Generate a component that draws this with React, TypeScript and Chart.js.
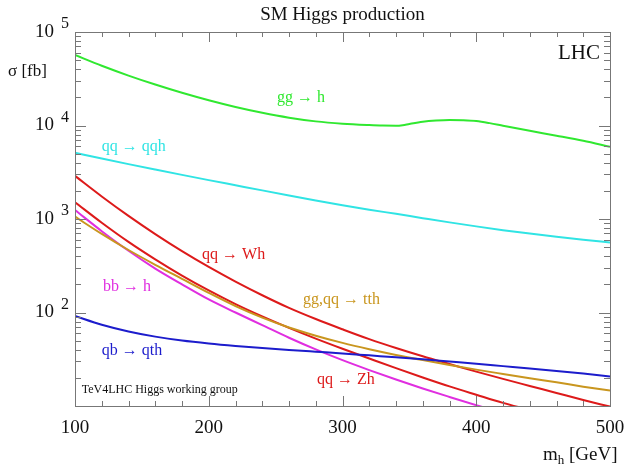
import { useEffect, useRef } from 'react';
import { Chart, registerables } from 'chart.js';

Chart.register(...registerables);

// ---- data ----
const massGrid = [100, 120, 140, 160, 180, 200, 220, 240, 260, 280, 300, 320, 340, 360, 380, 400, 420, 440, 460, 480, 500];
const ggMass = [100, 120, 140, 160, 180, 200, 220, 240, 260, 280, 300, 320, 330, 340, 345, 350, 360, 370, 380, 390, 400, 410, 420, 440, 460, 480, 500];
const ggH = [56750, 43550, 34200, 27420, 22390, 18620, 15780, 13680, 12130, 11070, 10450, 10100, 9980, 9950, 10080, 10400, 10980, 11300, 11450, 11380, 11150, 10600, 9950, 8780, 7780, 6860, 5930];
const qqQqh = [5117, 4436, 3864, 3381, 2965, 2606, 2296, 2023, 1786, 1581, 1406, 1259, 1135, 1021, 920, 834, 760, 698, 646, 601, 562];
const qqWh = [2891, 1742, 1079, 689, 453, 307, 214, 153, 112, 85.1, 66.1, 51.9, 41.7, 34.0, 28.1, 23.3, 19.5, 16.4, 13.8, 11.6, 9.84];
const qqZh = [1510, 912, 569, 370, 248, 172, 123, 90.8, 68.4, 52.5, 40.9, 32.2, 25.4, 20.2, 16.2, 13.2, 10.8, 9.08, 7.69, 6.61, 5.73];
const bbH = [1247, 741, 457, 295, 200, 138, 100, 73.3, 53.7, 40.3, 30.9, 24.2, 19.2, 15.4, 12.5, 10.2, 8.41, 7.0, 5.89, 5.01, 4.27];
const ttH = [1059, 692, 466, 324, 229, 162, 117, 88.1, 69.2, 56.5, 47.3, 40.5, 35.2, 31.0, 27.5, 24.5, 22.0, 19.8, 17.9, 16.1, 14.6];
const qbQth = [91.8, 74.0, 62.7, 55.2, 50.1, 46.6, 43.9, 41.7, 39.8, 38.1, 36.5, 34.8, 33.2, 31.6, 29.9, 28.3, 26.7, 25.2, 23.7, 22.2, 20.7];

const xTickLabels = [100, 200, 300, 400, 500];
const yExponents = [2, 3, 4, 5];

const SERIF = "'Liberation Serif', 'Times New Roman', serif";

const COLORS = {
  gg: '#30e830',
  qqh: '#30e4e4',
  wh: '#dd1a1a',
  zh: '#dd1a1a',
  bb: '#e02ee0',
  tth: '#c9961f',
  qth: '#1c1ccc',
};

const toPts = (xs: number[], ys: number[]) => xs.map((x, i) => ({ x, y: ys[i] }));

// curve labels anchored in data coordinates
const curveLabels = [
  { text: 'gg \u2192 h', m: 251, v: 19700, color: COLORS.gg },
  { text: 'qq \u2192 qqh', m: 120, v: 5890, color: COLORS.qqh },
  { text: 'qq \u2192 Wh', m: 195, v: 412, color: COLORS.wh },
  { text: 'bb \u2192 h', m: 121, v: 188, color: COLORS.bb },
  { text: 'gg,qq \u2192 tth', m: 270.5, v: 136, color: COLORS.tth },
  { text: 'qb \u2192 qth', m: 120, v: 38.7, color: COLORS.qth },
  { text: 'qq \u2192 Zh', m: 281, v: 19, color: COLORS.zh },
];

const overlay = {
  id: 'overlay',
  afterDraw(chart: any) {
    const { ctx, chartArea, scales } = chart;
    const { left, right, top, bottom } = chartArea;
    const xs = scales.x;
    const ys = scales.y;
    ctx.save();

    // frame
    ctx.strokeStyle = '#777777';
    ctx.lineWidth = 1;
    ctx.strokeRect(Math.round(left) + 0.5, Math.round(top) + 0.5, Math.round(right - left), Math.round(bottom - top));

    // x ticks (top & bottom, inward)
    ctx.beginPath();
    for (let v = 100; v <= 500; v += 20) {
      const px = Math.round(xs.getPixelForValue(v)) + 0.5;
      const len = v % 100 === 0 ? 10 : 5;
      ctx.moveTo(px, bottom);
      ctx.lineTo(px, bottom - len);
      ctx.moveTo(px, top);
      ctx.lineTo(px, top + len);
    }
    // y ticks (left & right, inward)
    for (let d = 1; d <= 5; d++) {
      for (let k = 1; k <= 9; k++) {
        const v = k * Math.pow(10, d);
        if (v > 100000) continue;
        const py = Math.round(ys.getPixelForValue(v)) + 0.5;
        const len = k === 1 ? 11 : 6;
        ctx.moveTo(left, py);
        ctx.lineTo(left + len, py);
        ctx.moveTo(right, py);
        ctx.lineTo(right - len, py);
      }
    }
    ctx.stroke();

    ctx.fillStyle = '#111111';
    // x tick labels
    ctx.font = `19px ${SERIF}`;
    ctx.textAlign = 'center';
    ctx.textBaseline = 'middle';
    xTickLabels.forEach((v) => {
      ctx.fillText(String(v), xs.getPixelForValue(v), bottom + 22);
    });

    // y tick labels 10^n
    yExponents.forEach((e) => {
      const py = ys.getPixelForValue(Math.pow(10, e));
      ctx.font = `19px ${SERIF}`;
      ctx.textAlign = 'right';
      ctx.textBaseline = 'middle';
      ctx.fillText('10', left - 21, py);
      ctx.font = `16px ${SERIF}`;
      ctx.textAlign = 'left';
      ctx.fillText(String(e), left - 14, py - 8);
    });

    // title
    ctx.font = `19px ${SERIF}`;
    ctx.textAlign = 'center';
    ctx.textBaseline = 'middle';
    ctx.fillText('SM Higgs production', (left + right) / 2, 15);

    // y axis title
    ctx.font = `17px ${SERIF}`;
    ctx.textAlign = 'left';
    ctx.fillText('\u03c3 [fb]', 8, 72);

    // x axis title m_h [GeV]
    ctx.font = `19px ${SERIF}`;
    ctx.textAlign = 'left';
    const mx = 543;
    const my = 455;
    ctx.fillText('m', mx, my);
    const mw = ctx.measureText('m').width;
    ctx.font = `13px ${SERIF}`;
    ctx.fillText('h', mx + mw, my + 6);
    const hw = ctx.measureText('h').width;
    ctx.font = `19px ${SERIF}`;
    ctx.fillText(' [GeV]', mx + mw + hw, my);

    // LHC
    ctx.font = `21px ${SERIF}`;
    ctx.textAlign = 'right';
    ctx.fillText('LHC', xs.getPixelForValue(492.5), ys.getPixelForValue(59600));

    // working group note
    ctx.font = `12px ${SERIF}`;
    ctx.textAlign = 'left';
    ctx.fillText('TeV4LHC Higgs working group', xs.getPixelForValue(105), ys.getPixelForValue(14.8));

    // curve labels
    ctx.font = `16px ${SERIF}`;
    ctx.textAlign = 'left';
    curveLabels.forEach((l) => {
      ctx.fillStyle = l.color;
      ctx.fillText(l.text, xs.getPixelForValue(l.m), ys.getPixelForValue(l.v));
    });

    ctx.restore();
  },
};

export default function App() {
  const ref = useRef<HTMLCanvasElement>(null);
  useEffect(() => {
    if (!ref.current) return;
    const mk = (label: string, xs: number[], ys: number[], color: string) => ({
      label,
      data: toPts(xs, ys),
      borderColor: color,
      backgroundColor: color,
      borderWidth: 2,
      pointRadius: 0,
      fill: false,
      cubicInterpolationMode: 'monotone' as const,
      clip: 0,
    });
    const chart = new Chart(ref.current, {
      type: 'line',
      data: {
        datasets: [
          mk('gg -> h', ggMass, ggH, COLORS.gg),
          mk('qq -> qqh', massGrid, qqQqh, COLORS.qqh),
          mk('qb -> qth', massGrid, qbQth, COLORS.qth),
          mk('gg,qq -> tth', massGrid, ttH, COLORS.tth),
          mk('bb -> h', massGrid, bbH, COLORS.bb),
          mk('qq -> Zh', massGrid, qqZh, COLORS.zh),
          mk('qq -> Wh', massGrid, qqWh, COLORS.wh),
        ],
      },
      options: {
        responsive: false,
        animation: false,
        layout: { padding: { left: 75, right: 18, top: 32, bottom: 62 } },
        plugins: { legend: { display: false }, tooltip: { enabled: false }, title: { display: false } },
        scales: {
          x: { type: 'linear', min: 100, max: 500, display: false },
          y: { type: 'logarithmic', min: 10, max: 100000, display: false },
        },
      },
      plugins: [overlay],
    });
    return () => chart.destroy();
  }, []);
  return (
    <div style={{ position: 'absolute', left: 0, top: 0, width: 628, height: 468, background: '#ffffff' }}>
      <canvas ref={ref} width={628} height={468} style={{ width: 628, height: 468, display: 'block' }} />
    </div>
  );
}
